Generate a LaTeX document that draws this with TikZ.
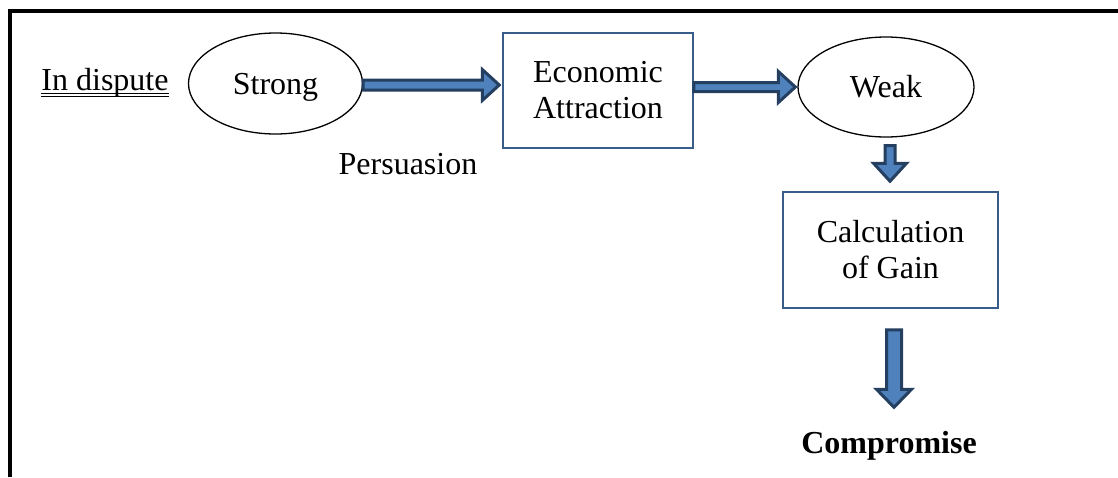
\documentclass[tikz,border=0pt]{standalone}
\usepackage{fontspec}
\setmainfont{Liberation Serif}
\usetikzlibrary{shapes.geometric,calc}
\definecolor{arrfill}{HTML}{4F81BD}
\definecolor{arrdraw}{HTML}{243F60}
\definecolor{boxdraw}{HTML}{385D8A}
\tikzset{
  txt/.style={font=\fontsize{32}{36}\selectfont, align=center},
  oval/.style={txt, ellipse, draw=black, line width=1.3pt, inner sep=0pt},
  box/.style={txt, rectangle, draw=boxdraw, line width=1.5pt, inner sep=0pt},
  blockarr/.style={fill=arrfill, draw=arrdraw, line width=3pt, line join=miter},
  frame/.style={line width=4pt, draw=black}
}
% horizontal block arrow: from, to, shaft half, head half, head length
\newcommand\blockH[5]{\draw[blockarr] let \p1=(#1), \p2=(#2) in
  (\x1,\y1+#3) -- (\x2-#5,\y1+#3) -- (\x2-#5,\y1+#4) -- (\x2,\y1) --
  (\x2-#5,\y1-#4) -- (\x2-#5,\y1-#3) -- (\x1,\y1-#3) -- cycle;}
% vertical (downward) block arrow
\newcommand\blockV[5]{\draw[blockarr] let \p1=(#1), \p2=(#2) in
  (\x1-#3,\y1) -- (\x1-#3,\y2+#5) -- (\x1-#4,\y2+#5) -- (\x1,\y2) --
  (\x1+#4,\y2+#5) -- (\x1+#3,\y2+#5) -- (\x1+#3,\y1) -- cycle;}
\begin{document}
\begin{tikzpicture}[x=1pt,y=-1pt]
\useasboundingbox (0,0) rectangle (1118,477);
% frame
\draw[frame] (10,477) -- (10,11) -- (1118,11);

\node[txt, inner sep=0pt, anchor=base] (dispute) at (105,90) {In dispute};
\draw[line width=0.8pt] ($(dispute.base west)+(0,3.2)$) -- ($(dispute.base east)+(0,3.2)$);
\draw[line width=0.8pt] ($(dispute.base west)+(0,6.2)$) -- ($(dispute.base east)+(0,6.2)$);

\node[oval, minimum width=174pt, minimum height=101pt, text depth=0pt] (strong) at (275.5,83.5) {Strong};
\node[box, minimum width=190pt, minimum height=115pt] (econ) at (598,90.5) {Economic\\Attraction};
\node[oval, minimum width=176pt, minimum height=100pt] (weak) at (886,87) {Weak};
\node[box, minimum width=215pt, minimum height=116pt] (calc) at (890.5,250) {Calculation\\of Gain};
\node[txt, font=\fontsize{32}{36}\selectfont\bfseries, inner sep=0pt] (comp) at (889,446) {Compromise};
\node[txt, inner sep=0pt] (pers) at (408,164) {Persuasion};

\blockH{$(strong.east)+(0,1.5)$}{$(econ.west)+(-3,1.5)$}{5pt}{15.5pt}{17pt}
\blockH{$(econ.east)+(0,-3.5)$}{$(weak.west)+(-2,0)$}{4.5pt}{15.5pt}{17pt}
\blockV{$(weak.south)+(4,8)$}{$(calc.north)+(0,-10)$}{5pt}{16.5pt}{18pt}
\blockV{$(calc.south)+(3.5,21)$}{$(comp.north)+(0,-24)$}{7.5pt}{17.5pt}{18pt}
\end{tikzpicture}
\end{document}
